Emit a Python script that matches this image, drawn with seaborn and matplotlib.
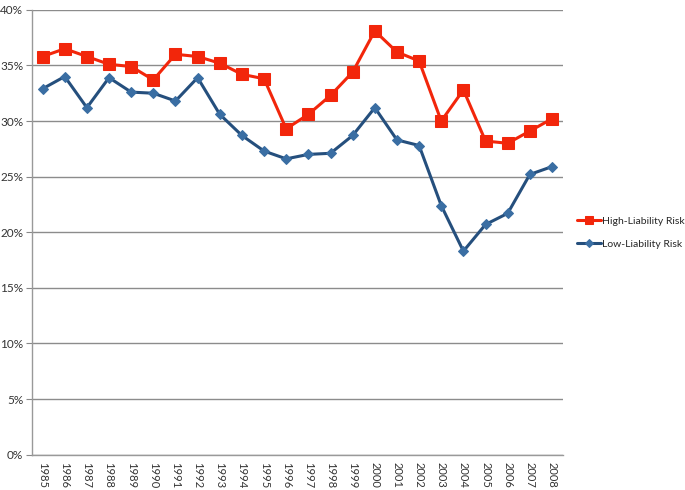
import numpy as np
import pandas as pd
import seaborn as sns
import matplotlib.pyplot as plt
from matplotlib.ticker import FuncFormatter, MultipleLocator

years = list(range(1985, 2009))
high_risk = [35.8, 36.5, 35.8, 35.1, 34.9, 33.7, 36.0, 35.8, 35.2, 34.2, 33.8, 29.3,
             30.6, 32.3, 34.4, 38.1, 36.2, 35.4, 30.0, 32.8, 28.2, 28.0, 29.1, 30.2]
low_risk = [32.9, 34.0, 31.2, 33.9, 32.6, 32.5, 31.8, 33.9, 30.6, 28.7, 27.3, 26.6,
            27.0, 27.1, 28.7, 31.2, 28.3, 27.8, 22.4, 18.3, 20.7, 21.7, 25.2, 25.9]
series_names = ["High-Liability Risk", "Low-Liability Risk"]

df = pd.DataFrame({
    "year": years * 2,
    "value": high_risk + low_risk,
    "series": [series_names[0]] * len(years) + [series_names[1]] * len(years),
})

sns.set_style("white")
plt.rcParams["font.family"] = ["Lato", "DejaVu Sans"]

fig = plt.figure(figsize=(6.85, 4.9), dpi=100)
ax = fig.add_axes([0.046, 0.072, 0.776, 0.908])

palette = {series_names[0]: "#F2260B", series_names[1]: "#254F7D"}
sns.lineplot(data=df, x="year", y="value", hue="series", style="series",
             palette=palette, markers={series_names[0]: "s", series_names[1]: "D"},
             dashes=False, linewidth=2.2, ax=ax, legend=False)
# marker styling per series
for line, name in zip(ax.lines, series_names):
    if name == series_names[0]:
        line.set_markersize(8)
        line.set_markerfacecolor("#F2260B")
        line.set_markeredgecolor("#F2260B")
    else:
        line.set_markersize(5.5)
        line.set_markerfacecolor("#3A6EA3")
        line.set_markeredgecolor("#3A6EA3")

ax.set_xlim(years[0] - 0.5, years[-1] + 0.5)
ax.set_ylim(0, 40)
ax.set_xticks(years)
ax.set_xticklabels([str(y) for y in years], rotation=-90, fontsize=8, color="#333333")
ax.set_xticks(np.arange(years[0] - 0.5, years[-1] + 1.0, 1.0), minor=True)
ax.tick_params(axis="x", which="major", length=0, pad=5)
ax.tick_params(axis="x", which="minor", length=4, color="#888888", direction="out")
ax.yaxis.set_major_locator(MultipleLocator(5))
ax.yaxis.set_major_formatter(FuncFormatter(lambda v, p: f"{v:.0f}%"))
ax.tick_params(axis="y", labelsize=8.5, length=4, pad=2, color="#888888", labelcolor="#333333", left=True)
ax.grid(axis="y", color="#8C8C8C", linewidth=1.0)
ax.set_axisbelow(True)
for s in ["top", "right"]:
    ax.spines[s].set_visible(False)
for s in ["left", "bottom"]:
    ax.spines[s].set_color("#999999")
    ax.spines[s].set_linewidth(1.0)
ax.set_xlabel("")
ax.set_ylabel("")

leg = ax.legend(ax.lines[:2], series_names, loc="center left", bbox_to_anchor=(0.843, 0.525),
                bbox_transform=fig.transFigure, frameon=False, fontsize=7.5,
                handlelength=2.3, handletextpad=0.1, labelspacing=1.3, borderpad=0.0,
                borderaxespad=0.0)
for h in leg.legend_handles:
    h.set_markersize(h.get_markersize() * 0.8)

fig.savefig("out.png", dpi=100)
